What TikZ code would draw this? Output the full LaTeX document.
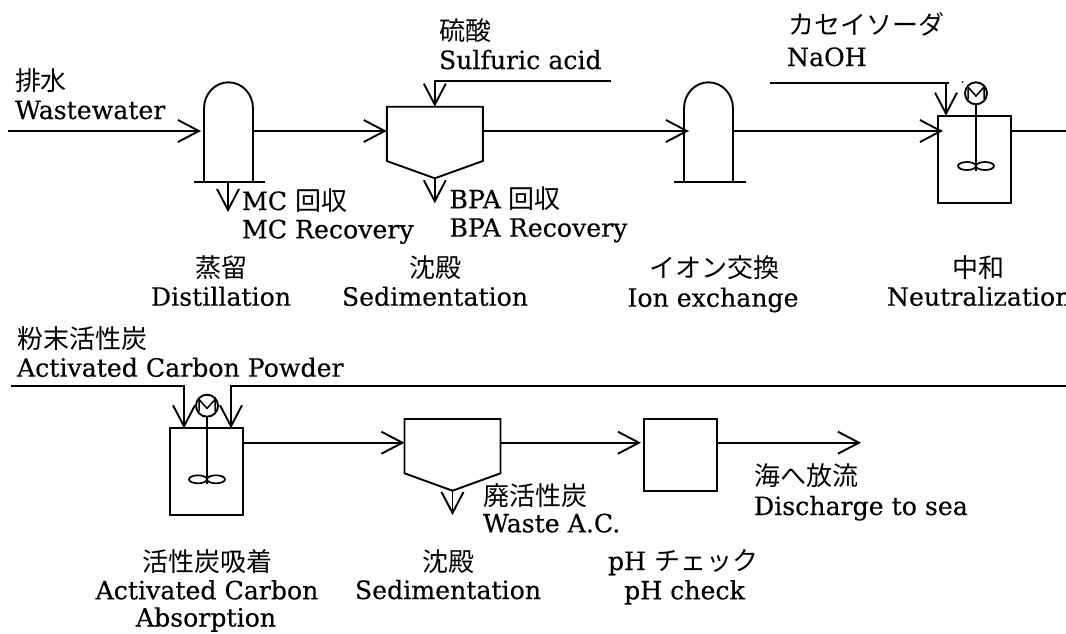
\documentclass[tikz,border=0pt]{standalone}
\usepackage{fontspec}
\setmainfont[FakeBold=0.3]{DejaVu Serif}
\newfontfamily\cjk{Noto Sans CJK JP}
\usetikzlibrary{arrows.meta}
\newcommand{\jp}[1]{{\cjk\fontsize{26}{30}\selectfont #1}}
\tikzset{
  pipe/.style={line width=1.9pt},
  flow/.style={pipe, -{Straight Barb[length=21pt,width=22pt,line width=1.9pt]}},
  tank/.style={draw, line width=1.9pt, rectangle, inner sep=0pt, outer sep=0pt},
  shell/.style={rectangle, inner sep=0pt, outer sep=0pt},
  lbl/.style={inner sep=0pt, outer sep=0pt, font=\fontsize{25.2}{29}\selectfont},
  motor/.style={draw, line width=1.9pt, circle, minimum size=22pt, inner sep=0pt, outer sep=0pt},
}
\begin{document}
\begin{tikzpicture}[x=1pt, y=-1pt]
  \useasboundingbox (0,0) rectangle (1066,633);
  \coordinate (rowA) at (0,131);
  \coordinate (rowB) at (0,442.7);

  % first line of units
  \node[shell, minimum width=49pt, minimum height=74pt] (stillA) at (228.5,145.3) {};
  \node[shell, minimum width=96pt, minimum height=54.3pt] (sedA) at (434.8,133.85) {};
  \node[shell, minimum width=49pt, minimum height=74pt] (ionA) at (708.5,145.3) {};
  \node[tank, minimum width=73pt, minimum height=87pt] (neutA) at (974.5,159.2) {};
  \node[motor] (motorA) at (976,93.3) {};

  \draw[pipe] (stillA.south west) -- (stillA.north west) arc[start angle=180, end angle=0, x radius=24.5pt, y radius=26pt] -- (stillA.south east);
  \draw[pipe] (194,182.3) coordinate (baseA) -- (265,182.3) coordinate (baseB);
  \draw[pipe] (ionA.south west) -- (ionA.north west) arc[start angle=180, end angle=0, x radius=24.5pt, y radius=26pt] -- (ionA.south east);
  \draw[pipe] (674,182.3) coordinate (baseC) -- (745.5,182.3) coordinate (baseD);
  \draw[pipe] (sedA.north west) -- (sedA.north east) -- (sedA.south east) -- (434.8,178.3) coordinate (sedAtip) -- (sedA.south west) -- cycle;

  \coordinate (feed) at (8,131);
  \coordinate (mcOut) at (228,182.3);
  \coordinate (mcEnd) at (228,212);
  \coordinate (bpaEnd) at (434.8,203.3);
  \coordinate (acidA) at (610.5,80.7);
  \coordinate (acidB) at (434.8,80.7);
  \coordinate (sodaA) at (770,82.7);
  \coordinate (sodaB) at (946,82.7);
  \coordinate (sodaC) at (949,82.7);
  \coordinate (rightA) at (1066,131);

  \draw[flow, shorten >=3pt] (feed) -- (stillA.west |- rowA);
  \draw[flow] (stillA.east |- rowA) -- (sedA.west |- rowA);
  \draw[flow, shorten >=-5pt] (sedA.east |- rowA) -- (ionA.west |- rowA);
  \draw[flow, shorten >=-5pt] (ionA.east |- rowA) -- (neutA.west |- rowA);
  \draw[pipe] (neutA.east |- rowA) -- (rightA);
  \draw[flow] (mcOut) -- (mcEnd);
  \draw[flow] (sedAtip) -- (bpaEnd);
  \draw[flow] (acidA) -- (acidB) -- (acidB |- sedA.north);
  \draw[pipe] (sodaA) -- (sodaC);
  \draw[flow] (sodaB) -- (sodaB |- neutA.north);
  \fill (962.7,82) circle (1pt);

  % stirrer
  \draw[pipe] (motorA.south) -- (976,171);
  \draw[line width=1.7pt] (967,166) ellipse[x radius=9pt, y radius=4pt] (985,166) ellipse[x radius=9pt, y radius=4pt];
  \draw[line width=1.5pt] (968,99) -- (968,87) -- (976,96) -- (984,87) -- (984,99);

  % second line of units
  \node[tank, minimum width=73pt, minimum height=86.7pt] (acB) at (206.5,471.65) {};
  \node[motor] (motorB) at (207,405.7) {};
  \node[shell, minimum width=96pt, minimum height=54.3pt] (sedB) at (452.5,446.15) {};
  \node[tank, minimum width=73pt, minimum height=72pt] (phB) at (680.5,455) {};

  \draw[pipe] (sedB.north west) -- (sedB.north east) -- (sedB.south east) -- (452.5,490.7) coordinate (sedBtip) -- (sedB.south west) -- cycle;

  \coordinate (powderA) at (11,386);
  \coordinate (powderB) at (184,386);
  \coordinate (powderC) at (1066,386);
  \coordinate (powderD) at (231,386);
  \coordinate (wasteEnd) at (452.5,515);
  \coordinate (seaEnd) at (861,442.7);

  \draw[flow] (powderA) -- (powderB) -- (powderB |- acB.north);
  \draw[flow] (powderC) -- (powderD) -- (powderD |- acB.north);
  \draw[pipe] (motorB.south) -- (207,484);
  \draw[line width=1.7pt] (198,479.3) ellipse[x radius=9pt, y radius=4pt] (216,479.3) ellipse[x radius=9pt, y radius=4pt];
  \draw[line width=1.5pt] (199,411.4) -- (199,399.4) -- (207,408.4) -- (215,399.4) -- (215,411.4);
  \draw[flow] (acB.east |- rowB) -- (sedB.west |- rowB);
  \draw[flow] (sedBtip) -- (wasteEnd);
  \draw[flow, shorten >=3pt] (sedB.east |- rowB) -- (phB.west |- rowB);
  \draw[flow] (phB.east |- rowB) -- (seaEnd);

  % labels of first line
  \node[lbl, anchor=base west] (wwJa) at (15,90) {\jp{排水}};
  \node[lbl, anchor=base west] (wwEn) at (15,119) {Wastewater};
  \node[lbl, anchor=base west] (acidJa) at (439,40) {\jp{硫酸}};
  \node[lbl, anchor=base west] (acidEn) at (439,69) {Sulfuric acid};
  \node[lbl, anchor=base west] (sodaJa) at (788,34) {\jp{カセイソーダ}};
  \node[lbl, anchor=base west] (sodaEn) at (787,66) {NaOH};
  \node[lbl, anchor=base west] (mcJa) at (242,210) {MC \jp{回収}};
  \node[lbl, anchor=base west] (mcEn) at (242,238.3) {MC Recovery};
  \node[lbl, anchor=base west] (bpaJa) at (449.5,208.3) {BPA \jp{回収}};
  \node[lbl, anchor=base west] (bpaEn) at (449.5,236.7) {BPA Recovery};
  \node[lbl, anchor=base] (stillJa) at (221,277.5) {\jp{蒸留}};
  \node[lbl, anchor=base] (stillEn) at (221,305.7) {Distillation};
  \node[lbl, anchor=base] (sedAJa) at (435,277.5) {\jp{沈殿}};
  \node[lbl, anchor=base] (sedAEn) at (435,305.7) {Sedimentation};
  \node[lbl, anchor=base] (ionJa) at (714,277.5) {\jp{イオン交換}};
  \node[lbl, anchor=base] (ionEn) at (713,306.7) {Ion exchange};
  \node[lbl, anchor=base] (neutJa) at (978,277.5) {\jp{中和}};
  \node[lbl, anchor=base west] (neutEn) at (887,305.7) {Neutralization};

  % labels of second line
  \node[lbl, anchor=base west] (powderJa) at (17,348) {\jp{粉末活性炭}};
  \node[lbl, anchor=base west] (powderEn) at (17,376.7) {Activated Carbon Powder};
  \node[lbl, anchor=base] (acJa) at (207,571.5) {\jp{活性炭吸着}};
  \node[lbl, anchor=base] (acEn) at (207,599.3) {Activated Carbon};
  \node[lbl, anchor=base] (acEnB) at (206,626.5) {Absorption};
  \node[lbl, anchor=base] (sedBJa) at (448,571.5) {\jp{沈殿}};
  \node[lbl, anchor=base] (sedBEn) at (448,599) {Sedimentation};
  \node[lbl, anchor=base west] (wasteJa) at (483,505) {\jp{廃活性炭}};
  \node[lbl, anchor=base west] (wasteEn) at (483,532.3) {Waste A.C.};
  \node[lbl, anchor=base] (phJa) at (683,570) {pH \jp{チェック}};
  \node[lbl, anchor=base] (phEn) at (684.5,599.3) {pH check};
  \node[lbl, anchor=base west] (seaJa) at (754,485.5) {\jp{海へ放流}};
  \node[lbl, anchor=base west] (seaEn) at (754,515) {Discharge to sea};
\end{tikzpicture}
\end{document}
